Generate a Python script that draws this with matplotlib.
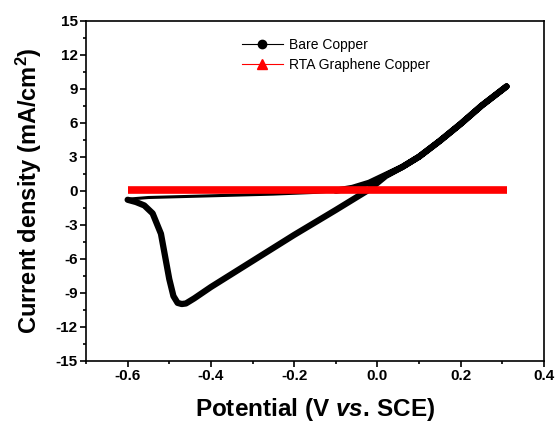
import matplotlib
matplotlib.use("Agg")
import matplotlib.pyplot as plt
from matplotlib.lines import Line2D
from matplotlib.ticker import MultipleLocator

plt.rcParams['font.family'] = ['Liberation Sans', 'DejaVu Sans']
plt.rcParams['mathtext.fontset'] = 'custom'
plt.rcParams['mathtext.rm'] = 'Liberation Sans:bold'
plt.rcParams['mathtext.it'] = 'Liberation Sans:italic:bold'
plt.rcParams['mathtext.bf'] = 'Liberation Sans:bold'

# Bare copper CV loop (V vs SCE, mA/cm2)
bare_v = [-0.60, -0.55, -0.45, -0.35, -0.25, -0.15, -0.10, -0.06, -0.02, 0.02,
          0.06, 0.10, 0.15, 0.20, 0.25, 0.31,
          0.25, 0.20, 0.15, 0.10, 0.06, 0.02, -0.02, -0.10, -0.20, -0.30,
          -0.40, -0.44, -0.46, -0.47, -0.48, -0.49, -0.50, -0.51, -0.52,
          -0.54, -0.56, -0.58, -0.60]
bare_j = [-0.75, -0.6, -0.5, -0.4, -0.3, -0.15, 0.0, 0.25, 0.7, 1.4,
          2.1, 3.0, 4.4, 5.9, 7.5, 9.2,
          7.5, 5.9, 4.4, 3.0, 2.1, 1.3, 0.1, -1.7, -3.9, -6.2,
          -8.5, -9.5, -9.95, -10.0, -9.9, -9.3, -7.8, -5.8, -3.8,
          -2.0, -1.3, -1.0, -0.8]
thin_end = 7  # sparse part of the forward scan

# RTA graphene copper
rta_v = [-0.60, 0.31]
rta_j = [0.05, 0.05]

xticks = [-0.6, -0.4, -0.2, 0.0, 0.2, 0.4]
xtick_labels = ['-0.6', '-0.4', '-0.2', '0.0', '0.2', '0.4']
yticks = [-15, -12, -9, -6, -3, 0, 3, 6, 9, 12, 15]

fig = plt.figure(figsize=(5.57, 4.25), dpi=100)
ax = fig.add_axes([86/557, 1-360.7/425, 458/557, 340/425])

ax.plot(rta_v, rta_j, color='red', lw=5.5, solid_capstyle='butt', zorder=3)
ax.plot(bare_v[:thin_end], bare_j[:thin_end], color='black', lw=2.2,
        solid_capstyle='round', zorder=2)
ax.plot(bare_v[thin_end-1:], bare_j[thin_end-1:], color='black', lw=4.5,
        solid_capstyle='round', solid_joinstyle='round', zorder=2)

ax.set_xlim(-0.7, 0.4)
ax.set_ylim(-15, 15)
ax.set_xticks(xticks)
ax.set_xticklabels(xtick_labels)
ax.set_yticks(yticks)
ax.set_yticklabels([str(v) for v in yticks])
ax.xaxis.set_minor_locator(MultipleLocator(0.1))
ax.yaxis.set_minor_locator(MultipleLocator(1.5))

for s in ax.spines.values():
    s.set_linewidth(1.2)
ax.tick_params(which='major', direction='out', length=4, width=1.2,
               labelsize=11, pad=2)
ax.tick_params(which='minor', direction='out', length=2.5, width=1.2)
for lab in ax.get_xticklabels() + ax.get_yticklabels():
    lab.set_fontweight('bold')

ax.set_xlabel('Potential (V $\\mathit{vs.}\\,$SCE)', fontsize=17.5, fontweight='bold')
ax.set_ylabel('Current density (mA/cm$^\\mathbf{2}$)', fontsize=17, fontweight='bold')
ax.xaxis.set_label_coords(0.5, -0.105)
ax.yaxis.set_label_coords(-0.092, 0.5)

handles = [
    Line2D([], [], color='black', lw=0.8, marker='o', ms=6),
    Line2D([], [], color='red', lw=0.8, marker='^', ms=7),
]
ax.legend(handles, ['Bare Copper', 'RTA Graphene Copper'], loc='upper left',
          bbox_to_anchor=(0.34, 0.95), frameon=False, fontsize=10,
          handlelength=2.95, handletextpad=0.45, labelspacing=0.45,
          borderpad=0, borderaxespad=0)

fig.savefig('out.png', dpi=100)
